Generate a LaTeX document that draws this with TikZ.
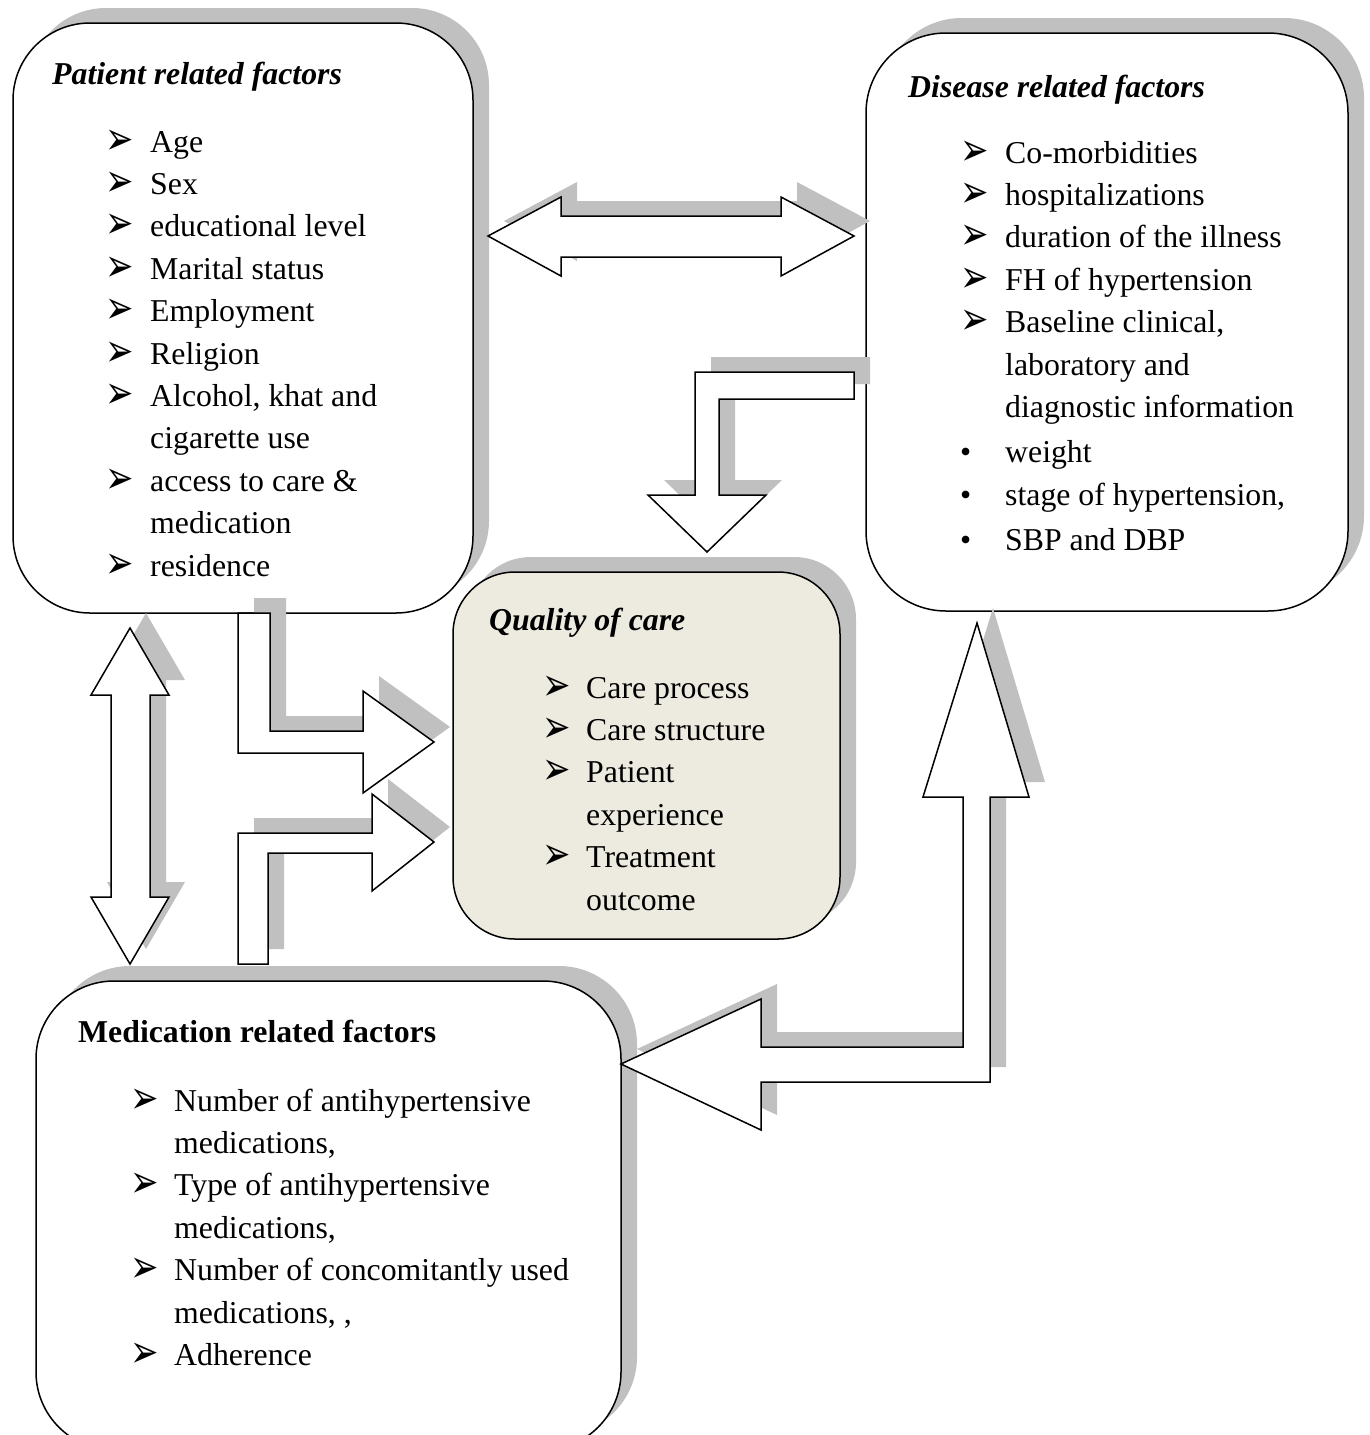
\documentclass[tikz,border=0pt]{standalone}
\usepackage{fontspec}
\setmainfont{Liberation Serif}
\newfontfamily\symfont{DejaVu Sans}
\usepackage{array}
\usepackage{graphicx}
\usetikzlibrary{shadows}
\definecolor{shadowgray}{RGB}{192,192,192}
\definecolor{qualfill}{RGB}{237,235,224}
\newcommand{\arw}{\raisebox{-2pt}{\scalebox{1}[1.35]{\symfont\fontsize{34}{34}\selectfont ➢}}}
\newcommand{\dotb}{\textbullet}
\newcommand{\itemfont}{\fontsize{31.8}{42.4}\selectfont}
\newcommand{\titlefont}{\fontsize{31.8}{42.4}\selectfont\bfseries}
\tikzset{
  shad/.style={drop shadow={shadow xshift=16pt, shadow yshift=15pt, fill=shadowgray, opacity=1}},
  box/.style={shad, draw=black, line width=1.5pt, fill=white, inner sep=0pt},
  blockarrow/.style={shad, draw=black, line width=1.5pt, fill=white, line join=miter},
  lab/.style={anchor=base west, inner sep=0pt, align=left}
}
\begin{document}
\begin{tikzpicture}[x=1pt,y=-1pt]
\useasboundingbox (0,0) rectangle (1369,1435);
\clip (0,0) rectangle (1369,1435);

% boxes
\node[box, rounded corners=77pt, minimum width=460pt, minimum height=590pt] (patient) at (243,318) {};
\node[box, rounded corners=80pt, minimum width=482pt, minimum height=578pt] (disease) at (1107,322) {};
\node[box, fill=qualfill, rounded corners=62pt, minimum width=387pt, minimum height=367pt] (quality) at (646.5,755.5) {};
\node[box, rounded corners=78pt, minimum width=585pt, minimum height=469pt] (medication) at (328.5,1215.5) {};

% titles
\node[lab] (ptitle) at (52,84) {\titlefont\itshape Patient related factors};
\node[lab] (dtitle) at (908,97) {\titlefont\itshape Disease related factors};
\node[lab] (qtitle) at (489,630) {\titlefont\itshape Quality of care};
\node[lab] (mtitle) at (78,1042) {\titlefont Medication related factors};

% item lists
\node[lab] (pitems) at (105,152) {\itemfont\begin{tabular}[t]{@{}p{45pt}@{}l@{}}
\arw & Age\\
\arw & Sex\\
\arw & educational level\\
\arw & Marital status\\
\arw & Employment\\
\arw & Religion\\
\arw & Alcohol, khat and\\
     & cigarette use\\
\arw & access to care \&\\
     & medication\\
\arw & residence
\end{tabular}};

\node[lab] (ditems) at (960,163) {\itemfont\begin{tabular}[t]{@{}p{45pt}@{}l@{}}
\arw & Co-morbidities\\
\arw & hospitalizations\\
\arw & duration of the illness\\
\arw & FH of hypertension\\
\arw & Baseline clinical,\\
     & laboratory and\\
     & diagnostic information\\[2.6pt]
\dotb & weight\\[0.6pt]
\dotb & stage of hypertension,\\[2.6pt]
\dotb & SBP and DBP
\end{tabular}};

\node[lab] (qitems) at (542,698) {\itemfont\begin{tabular}[t]{@{}p{44pt}@{}l@{}}
\arw & Care process\\
\arw & Care structure\\
\arw & Patient\\
     & experience\\
\arw & Treatment\\
     & outcome
\end{tabular}};

\node[lab] (mitems) at (130,1111) {\itemfont\begin{tabular}[t]{@{}p{44pt}@{}l@{}}
\arw & Number of antihypertensive\\
     & medications,\\
\arw & Type of antihypertensive\\
     & medications,\\
\arw & Number of concomitantly used\\
     & medications, ,\\
\arw & Adherence
\end{tabular}};

% block arrows
% patient <-> disease
\draw[blockarrow] (488,236) -- (561,197) -- (561,216) -- (781,216) -- (781,197) -- (854,236)
  -- (781,276) -- (781,257) -- (561,257) -- (561,276) -- cycle;
% disease -> quality
\draw[blockarrow] (854,372) -- (695,372) -- (695,495) -- (648,495) -- (707,552) -- (766,495)
  -- (719,495) -- (719,399) -- (854,399) -- cycle;
% patient <-> medication
\draw[blockarrow] (130,628) -- (169,695) -- (150,695) -- (150,897) -- (169,897) -- (130,964)
  -- (91,897) -- (111,897) -- (111,695) -- (91,695) -- cycle;
% medication -> quality
\draw[blockarrow] (238,964) -- (238,833) -- (372,833) -- (372,794) -- (434,842) -- (372,891)
  -- (372,853) -- (268,853) -- (268,964) -- cycle;
% patient -> quality
\draw[blockarrow] (238,613) -- (238,753) -- (363,753) -- (363,793) -- (434,742) -- (363,691)
  -- (363,731) -- (270,731) -- (270,613) -- cycle;
% medication <-> disease
\draw[blockarrow] (977,623) -- (1029,797) -- (990,797) -- (990,1082) -- (761,1082) -- (761,1130)
  -- (621,1064) -- (761,999) -- (761,1047) -- (963,1047) -- (963,797) -- (923,797) -- cycle;
\end{tikzpicture}
\end{document}
